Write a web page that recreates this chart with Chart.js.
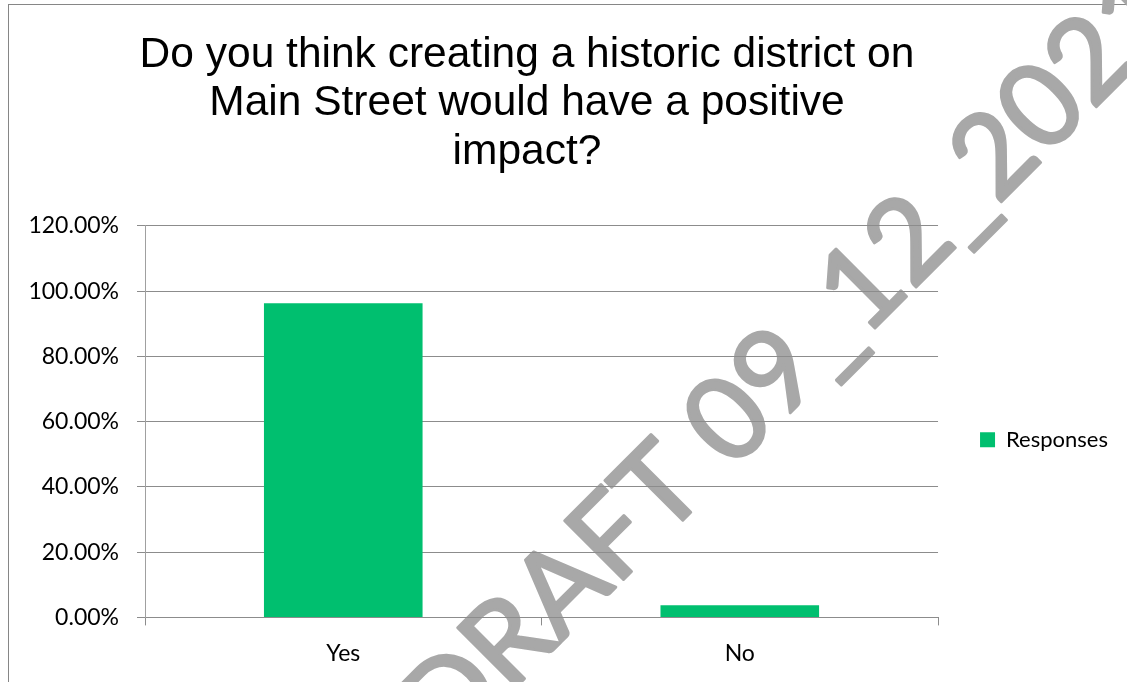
<!DOCTYPE html>
<html>
<head>
<meta charset="utf-8">
<script src="https://cdn.jsdelivr.net/npm/chart.js@4.4.0/dist/chart.umd.min.js"></script>
<style>
  html, body { margin: 0; padding: 0; background: #fff; overflow: hidden; }
  #wrap { position: relative; width: 1127px; height: 682px; overflow: hidden; }
  #frame { position: absolute; left: 8px; top: 4px; width: 1200px; height: 800px; border: 1px solid #868686; box-sizing: border-box; }
  #chart { position: absolute; left: -100px; top: 0; }
</style>
</head>
<body>
<div id="wrap">
  <div id="frame"></div>
  <canvas id="chart" width="1260" height="682"></canvas>
</div>
<script>
// chart data
const titleLines = ['Do you think creating a historic district on', 'Main Street would have a positive', 'impact?'];
const categories = ['Yes', 'No'];
const responses = [96.3, 3.7];
const seriesName = 'Responses';
const yTickLabels = ['0.00%', '20.00%', '40.00%', '60.00%', '80.00%', '100.00%', '120.00%'];
const watermarkLeft = 'DRAFT 09';
const watermarkRight = '_12_2021';

const axisFont = { family: 'Lato, "Open Sans", sans-serif', size: 23 };
const legendFont = { family: 'Lato, "Open Sans", sans-serif', size: 22 };
const gridColor = '#8c8c8c';

// diagonal draft stamp, drawn under the chart
const watermark = {
    id: 'watermark',
    beforeDraw(chart) {
        const ctx = chart.ctx;
        ctx.save();
        ctx.translate(927, 376);
        ctx.rotate(-Math.PI / 4);
        ctx.font = '400 116px Lato, sans-serif';
        ctx.fillStyle = '#a8a8a8';
        ctx.strokeStyle = '#a8a8a8';
        ctx.lineWidth = 3;
        ctx.lineJoin = 'round';
        ctx.textBaseline = 'alphabetic';
        ctx.textAlign = 'right';
        ctx.fillText(watermarkLeft, 0, 0);
        ctx.strokeText(watermarkLeft, 0, 0);
        ctx.textAlign = 'left';
        ctx.fillText(watermarkRight, 0, 0);
        ctx.strokeText(watermarkRight, 0, 0);
        ctx.restore();
    }
};

const ctx = document.getElementById('chart').getContext('2d');
const myChart = new Chart(ctx, {
    type: 'bar',
    data: {
        labels: categories,
        datasets: [{
            label: seriesName,
            data: responses,
            backgroundColor: '#00bf6f',
            borderWidth: 0,
            barPercentage: 0.4,
            categoryPercentage: 1
        }]
    },
    options: {
        responsive: false,
        animation: false,
        layout: {
            padding: { left: 36, right: 42, top: 0, bottom: 1 }
        },
        plugins: {
            title: {
                display: true,
                text: titleLines,
                color: '#000',
                font: { family: '"Liberation Sans", Arial, sans-serif', size: 42.5, weight: 'normal', lineHeight: 1.14 },
                padding: { top: 31, bottom: 49.5 }
            },
            legend: {
                position: 'right',
                align: 'center',
                fullSize: false,
                title: {
                    display: true,
                    text: ' ',
                    font: { size: 10, lineHeight: 1.2 },
                    padding: { top: 12, bottom: 12 }
                },
                labels: {
                    boxWidth: 15,
                    boxHeight: 15,
                    padding: 42,
                    color: '#000',
                    font: legendFont
                }
            },
            tooltip: { enabled: false }
        },
        scales: {
            x: {
                grid: {
                    drawOnChartArea: false,
                    tickLength: 8,
                    color: gridColor
                },
                border: { color: gridColor },
                ticks: {
                    color: '#000',
                    font: axisFont,
                    padding: 14
                }
            },
            y: {
                min: 0,
                max: 120,
                afterFit: (scale) => { scale.width = 209; },
                grid: {
                    tickLength: 8,
                    color: gridColor
                },
                border: { color: '#a0a0a0' },
                ticks: {
                    stepSize: 20,
                    color: '#000',
                    font: axisFont,
                    padding: 18,
                    callback: (value, index) => yTickLabels[index]
                }
            }
        }
    },
    plugins: [watermark]
});
</script>
</body>
</html>
